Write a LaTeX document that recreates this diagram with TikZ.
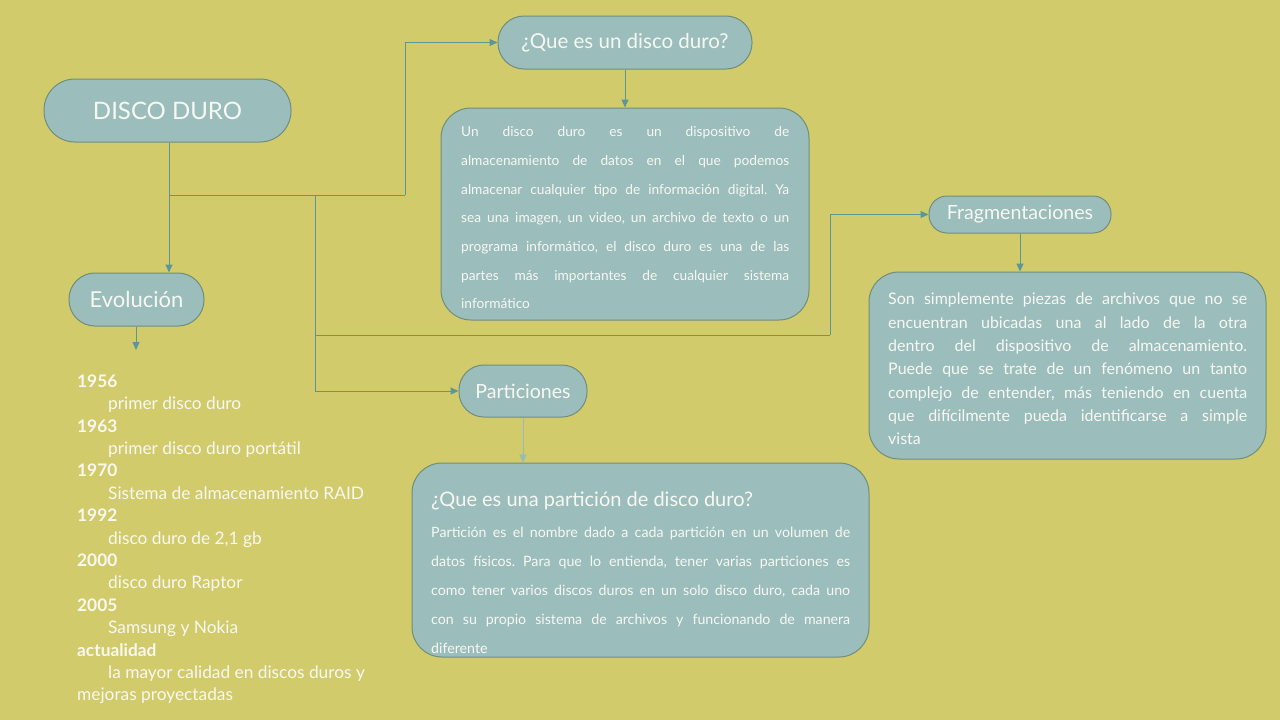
\documentclass[tikz,border=0pt]{standalone}
\usepackage{fontspec}
\setmainfont{Lato}
\usetikzlibrary{arrows.meta}
\hyphenpenalty=10000
\exhyphenpenalty=10000
\tolerance=10000
\frenchspacing
\definecolor{bgc}{RGB}{209,203,107}
\definecolor{fillc}{RGB}{155,189,188}
\definecolor{borderc}{RGB}{112,142,122}
\definecolor{linec}{RGB}{92,150,150}
\definecolor{lightc}{RGB}{150,186,186}
\definecolor{txt}{RGB}{248,248,242}
\begin{document}
\begin{tikzpicture}[x=1pt,y=-1pt,
  pill/.style={draw=borderc, fill=fillc, line width=1pt, rounded corners=#1, text=txt, inner sep=0pt},
  box/.style={draw=borderc, fill=fillc, line width=1pt, rounded corners=30pt, inner sep=0pt},
  para/.style={text=txt, inner sep=0pt, align=justify},
  conn/.style={draw=linec, line width=1pt},
  arrowc/.style={conn, -{Triangle[length=8pt,width=7pt]}},
  arrowlight/.style={draw=lightc, line width=1pt, -{Triangle[length=8pt,width=7pt]}}
]
\fill[bgc] (0,0) rectangle (1280,720);
\useasboundingbox (0,0) rectangle (1280,720);

% pills
\node[pill=31pt, minimum width=247pt, minimum height=63pt, font=\fontsize{24}{28}\selectfont] (dd) at (167.5,110.5) {DISCO DURO};
\node[pill=26pt, minimum width=135pt, minimum height=53pt, font=\fontsize{22}{26}\selectfont] (evo) at (136.5,299.5) {Evolución};
\node[pill=26pt, minimum width=254pt, minimum height=53pt, font=\fontsize{20.5}{24}\selectfont] (que) at (625,42.5) {¿Que es un disco duro?};
\node[pill=18pt, minimum width=182pt, minimum height=37pt, font=\fontsize{19.6}{22}\selectfont] (frag) at (1020,214.5) {Fragmentaciones};
\node[pill=25pt, minimum width=128pt, minimum height=52pt, font=\fontsize{19.6}{22}\selectfont] (part) at (523,391) {Particiones};

% boxes
\node[box, minimum width=368pt, minimum height=212pt] (def) at (625,214) {};
\node[box, minimum width=397pt, minimum height=187pt] (fbox) at (1067.5,365.5) {};
\node[box, minimum width=457pt, minimum height=194pt] (pbox) at (640.5,560) {};

% texts
\node[para, text width=328pt, anchor=north west, font=\fontsize{13.7}{28.7}\selectfont] (deftext) at (461,126.5) {Un disco duro es un dispositivo de\linebreak
almacenamiento de datos en el que podemos\linebreak
almacenar cualquier tipo de información digital. Ya\linebreak
sea una imagen, un video, un archivo de texto o un\linebreak
programa informático, el disco duro es una de las\linebreak
partes más importantes de cualquier sistema\linebreak
informático};

\node[para, text width=359pt, anchor=north west, font=\fontsize{16}{23.3}\selectfont] (ftext) at (888,293) {Son simplemente piezas de archivos que no se\linebreak
encuentran ubicadas una al lado de la otra\linebreak
dentro del dispositivo de almacenamiento.\linebreak
Puede que se trate de un fenómeno un tanto\linebreak
complejo de entender, más teniendo en cuenta\linebreak
que difícilmente pueda identificarse a simple\linebreak
vista};

\node[text=txt, inner sep=0pt, anchor=base west, font=\fontsize{20}{24}\selectfont] (ptitle) at (431,506) {¿Que es una partición de disco duro?};
\node[para, text width=419pt, anchor=north west, font=\fontsize{14.2}{29}\selectfont] (ptext) at (431,526.5) {Partición es el nombre dado a cada partición en un volumen de\linebreak
datos físicos. Para que lo entienda, tener varias particiones es\linebreak
como tener varios discos duros en un solo disco duro, cada uno\linebreak
con su propio sistema de archivos y funcionando de manera\linebreak
diferente};

\node[text=txt, inner sep=0pt, anchor=north west, align=left, font=\fontsize{17.3}{22.4}\selectfont] (evolist) at (77,374.5) {%
\textbf{1956}\\
\hspace*{31pt}primer disco duro\\
\textbf{1963}\\
\hspace*{31pt}primer disco duro portátil\\
\textbf{1970}\\
\hspace*{31pt}Sistema de almacenamiento RAID\\
\textbf{1992}\\
\hspace*{31pt}disco duro de 2,1 gb\\
\textbf{2000}\\
\hspace*{31pt}disco duro Raptor\\
\textbf{2005}\\
\hspace*{31pt}Samsung y Nokia\\
\textbf{actualidad}\\
\hspace*{31pt}la mayor calidad en discos duros y\\
mejoras proyectadas};

% connectors
\coordinate (ja) at (169,195);
\coordinate (ka) at (405,195);
\coordinate (jb) at (315,195);
\coordinate (jc) at (315,335);
\coordinate (kc) at (830,335);
\coordinate (evoend) at (136,350);

\draw[arrowc] (dd.south -| ja) -- (ja |- evo.north);
\draw[conn] (ja) -- (ka);
\draw[arrowc] (ka) |- (que.west);
\draw[arrowc] (jb) |- (part.west);
\draw[conn] (jc) -- (kc);
\draw[arrowc] (kc) |- (frag.west);
\draw[arrowc] (que.south) -- (def.north);
\draw[arrowc] (frag.south) -- (frag.south |- fbox.north);
\draw[arrowlight] (part.south) -- (part.south |- pbox.north);
\draw[arrowc] (evo.south -| evoend) -- (evoend);
\end{tikzpicture}
\end{document}
